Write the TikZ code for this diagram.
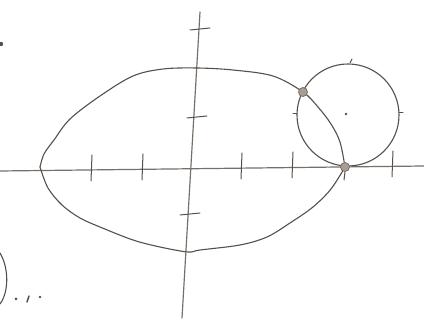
\documentclass[tikz,border=0pt]{standalone}
\usetikzlibrary{positioning,calc}
\definecolor{pencil}{HTML}{55504B}
\definecolor{lpencil}{HTML}{75706A}
\definecolor{smudge}{HTML}{A89E94}
\tikzset{
  curve/.style={draw=pencil, line width=1.1pt, line cap=round, line join=round},
  axis/.style={draw=lpencil, line width=1.2pt, line cap=round},
  tick/.style={draw=pencil, line width=1pt, line cap=round},
  blob/.style={circle, fill=smudge, draw=lpencil, line width=0.8pt,
               minimum size=9pt, inner sep=0pt},
  dot/.style={circle, fill=pencil, minimum size=2.6pt, inner sep=0pt},
}
\begin{document}
\begin{tikzpicture}[x=1pt,y=-1pt]
  \useasboundingbox (0,0) rectangle (424,320);
  % --- axes ---
  \coordinate (xl) at (0,171);
  \coordinate (xr) at (424,166);
  \coordinate (yt) at (200,12);
  \coordinate (yb) at (182,318);
  \draw[axis] (xl) -- (xr);
  \draw[axis] (yt) -- (yb);
  \foreach \x/\y in {92/170, 143/169, 242/168, 293/167, 393/166}{
     \draw[tick] (\x,\y-15) -- (\x-1,\y+11);}
  \draw[tick] (345,172) -- (344,180);
  \foreach \x/\y in {200/29, 197/117, 190/214}{
     \draw[tick] (\x-10,\y+1) -- (\x+10,\y-1);}
  % --- oval ---
  \draw[curve] plot[smooth, tension=0.55] coordinates {
     (40,167) (44,154) (54,140) (70,119) (100,96) (133,76) (163,69) (197,68)
     (233,70) (273,76) (303,92) (318,107) (331,124) (340,142) (345,167)};
  \draw[curve] plot[smooth, tension=0.55] coordinates {
     (345,167) (331,189) (313,207) (290,223) (267,237) (240,245)
     (200,250) (188,252) (160,247) (133,240) (100,227) (80,218)
     (62,205) (48,188) (40,167)};
  % --- circle ---
  \draw[curve] (348,115) circle[radius=51];
  \foreach \x/\y/\dx/\dy in {350/63/2/-4, 297/114/-4/0, 399/113/4/0}{
     \draw[tick] (\x,\y) -- ++(\dx,\dy);}
  \node[dot] (ctr) at (346,114) {};
  % --- intersections ---
  \node[blob] (ptA) at (303,92) {};
  \node[blob] (ptB) at (345,167) {};
  % --- margin scraps ---
  \fill[pencil] (1,44) circle[radius=2.2];
  \draw[curve] (0,253) .. controls (9,268) and (9,292) .. (0,304);
  \fill[pencil] (16,299) circle[radius=1.5];
  \draw[tick, line width=1.5pt] (29,296) -- (27,302);
  \fill[pencil] (40,297) circle[radius=1.4];
\end{tikzpicture}
\end{document}
